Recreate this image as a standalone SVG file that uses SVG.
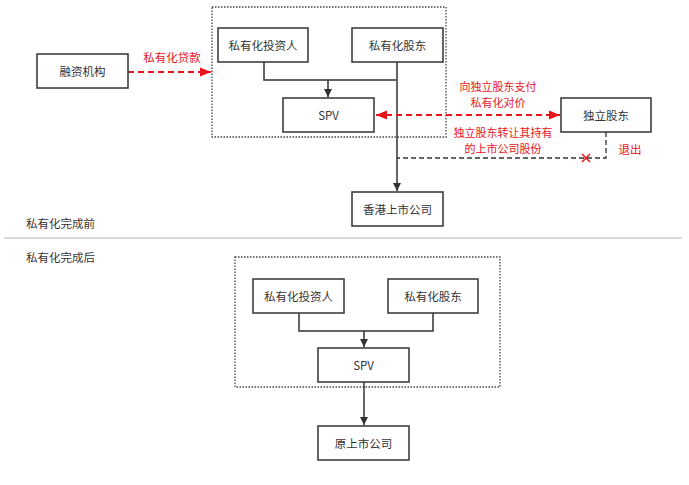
<svg xmlns="http://www.w3.org/2000/svg" width="689" height="485" viewBox="0 0 689 485">
<style>
.box{fill:#fff;stroke:#333;stroke-width:1.5}
.grp{fill:none;stroke:#444;stroke-width:1.3;stroke-dasharray:1.5 1.5}
.t{font-family:"Noto Sans CJK SC","Noto Sans",sans-serif;font-size:11.5px;fill:#333;text-anchor:middle;dominant-baseline:central}
.r{fill:#e8141a}
.s{font-size:11px}
.l{font-family:"Noto Sans CJK SC","Noto Sans",sans-serif;font-size:11.5px;fill:#333;dominant-baseline:central}
.ln{fill:none;stroke:#333;stroke-width:1.5}
.rd{fill:none;stroke:#e8141a;stroke-width:1.8;stroke-dasharray:6 4}
.bd{fill:none;stroke:#333;stroke-width:1.3;stroke-dasharray:5 3}
</style>
<defs>
<marker id="ab" viewBox="0 0 10 10" refX="10" refY="5" markerWidth="8" markerHeight="8" markerUnits="userSpaceOnUse" orient="auto"><path d="M0,0L10,5L0,10z" fill="#333"/></marker>
<marker id="ar" viewBox="0 0 10 10" refX="10" refY="5" markerWidth="11" markerHeight="11" markerUnits="userSpaceOnUse" orient="auto-start-reverse"><path d="M0,1L10,5L0,9z" fill="#e8141a"/></marker>
</defs>
<rect x="0" y="0" width="689" height="485" fill="#fff"/>
<g id="groups">
<rect class="grp" x="212" y="7" width="234" height="130"/>
<rect class="grp" x="235" y="257" width="265" height="130"/>
</g>
<line x1="4" y1="238" x2="682" y2="238" stroke="#ccc" stroke-width="1.5"/>
<text class="l" x="26" y="223">私有化完成前</text>
<text class="l" x="26" y="257">私有化完成后</text>
<g id="connectors">
<path class="rd" d="M128,72H211" marker-end="url(#ar)"/>
<text class="t r" x="172" y="57">私有化贷款</text>
<path class="ln" d="M264,62V80H397"/>
<path class="ln" d="M328,80V97" marker-end="url(#ab)"/>
<path class="ln" d="M397,62V191" marker-end="url(#ab)"/>
<path class="rd" d="M376,115H560" marker-start="url(#ar)" marker-end="url(#ar)"/>
<text class="t r s" x="498" y="86">向独立股东支付</text>
<text class="t r s" x="498" y="102">私有化对价</text>
<path class="bd" d="M606,132V158H397"/>
<path d="M582,154L590,162M590,154L582,162" stroke="#e8141a" stroke-width="1.5"/>
<text class="t r s" x="503" y="132">独立股东转让其持有</text>
<text class="t r s" x="503" y="148">的上市公司股份</text>
<text class="t r" x="630" y="149">退出</text>
<path class="ln" d="M299,313V331H433V313"/>
<path class="ln" d="M364,331V347" marker-end="url(#ab)"/>
<path class="ln" d="M364,382V425" marker-end="url(#ab)"/>
</g>
<g id="rzjg"><rect class="box" x="37" y="54" width="91" height="34"/><text class="t" x="82.5" y="71">融资机构</text></g>
<g id="tzr1"><rect class="box" x="218" y="28" width="90" height="34"/><text class="t" x="263" y="45">私有化投资人</text></g>
<g id="gd1"><rect class="box" x="352" y="28" width="91" height="34"/><text class="t" x="397.5" y="45">私有化股东</text></g>
<g id="spv1"><rect class="box" x="283" y="98" width="91" height="34"/><text class="t" x="328.5" y="115">SPV</text></g>
<g id="hk"><rect class="box" x="352" y="192" width="91" height="34"/><text class="t" x="397.5" y="209">香港上市公司</text></g>
<g id="dlgd"><rect class="box" x="561" y="98" width="90" height="34"/><text class="t" x="606" y="115">独立股东</text></g>
<g id="tzr2"><rect class="box" x="253" y="279" width="91" height="34"/><text class="t" x="298.5" y="296">私有化投资人</text></g>
<g id="gd2"><rect class="box" x="388" y="279" width="90" height="34"/><text class="t" x="433" y="296">私有化股东</text></g>
<g id="spv2"><rect class="box" x="318" y="348" width="91" height="34"/><text class="t" x="363.5" y="365">SPV</text></g>
<g id="ysgs"><rect class="box" x="318" y="426" width="91" height="34"/><text class="t" x="363.5" y="443">原上市公司</text></g>
</svg>
